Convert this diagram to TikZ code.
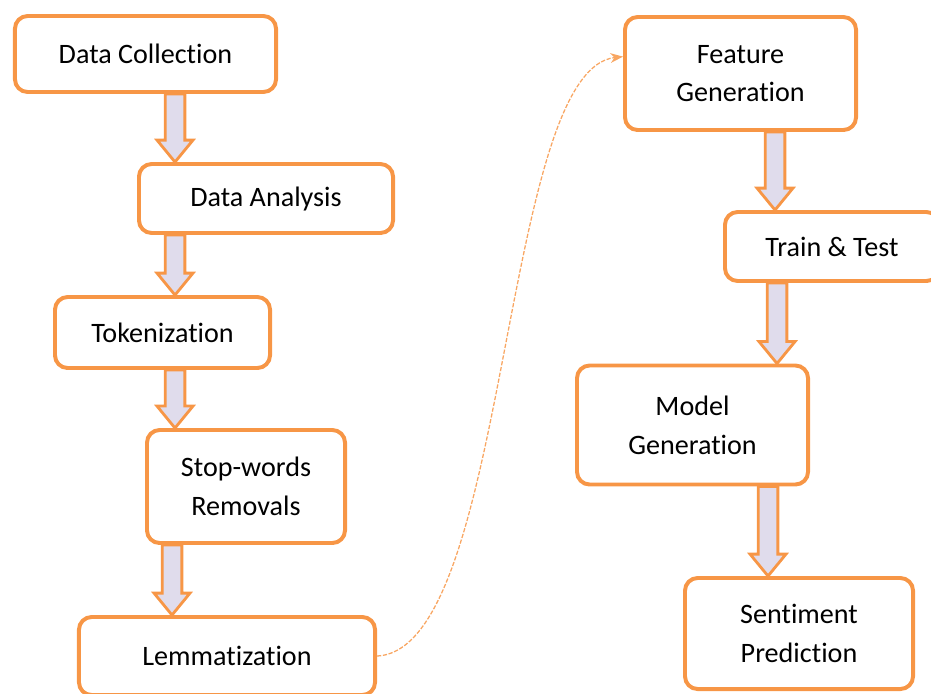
\documentclass[tikz,border=0pt]{standalone}
\usepackage{fontspec}
\setmainfont{Carlito}[Ligatures=NoCommon]
\usetikzlibrary{arrows.meta,calc}
\definecolor{boxorange}{RGB}{247,150,70}
\definecolor{arrowfill}{RGB}{224,220,236}
\tikzset{
  stage/.style={draw=boxorange, line width=2.8pt, rounded corners=9pt, fill=white,
    inner sep=0pt, align=center, font=\fontsize{20}{27.6}\selectfont},
  flowarrow/.style={draw=boxorange, line width=2pt, fill=arrowfill, line join=miter},
  jump/.style={draw=boxorange!85, line width=0.9pt, dashed, dash pattern=on 3pt off 1.2pt,
    -{Stealth[length=9pt,width=7pt]}}
}
% block arrow: x position, from node, to node
\newcommand{\flow}[3]{%
  \draw[flowarrow] let \p1=(#1,0), \p2=(#2.south), \p3=(#3.north) in
    (\x1-7pt,\y2) -- (\x1+7pt,\y2) -- (\x1+7pt,\y3+15.6pt) -- (\x1+12.8pt,\y3+15.6pt)
    -- (\x1,\y3) -- (\x1-12.8pt,\y3+15.6pt) -- (\x1-7pt,\y3+15.6pt) -- cycle;}
\begin{document}
\begin{tikzpicture}[x=0.025cm, y=-0.025cm]
\useasboundingbox (0,0) rectangle (931,693);
% left column
\node[stage, minimum width=6.525cm, minimum height=1.9cm] (collect) at (145.5,54) {Data Collection};
\node[stage, minimum width=6.35cm, minimum height=1.725cm] (analysis) at (266,198.5) {Data Analysis};
\node[stage, minimum width=5.375cm, minimum height=1.775cm] (token) at (162.5,332.5) {Tokenization};
\node[stage, minimum width=4.95cm, minimum height=2.825cm] (stopw) at (246,486.5) {Stop-words\\Removals};
\node[stage, minimum width=7.4cm, minimum height=1.95cm] (lemma) at (227,656) {Lemmatization};
% right column
\node[stage, minimum width=5.775cm, minimum height=2.825cm] (feature) at (740.5,73.5) {Feature\\Generation};
\node[stage, minimum width=5.35cm, minimum height=1.725cm] (train) at (832,246.5) {Train \& Test};
\node[stage, minimum width=5.775cm, minimum height=2.975cm] (model) at (692.5,425) {Model\\Generation};
\node[stage, minimum width=5.7cm, minimum height=2.775cm] (predict) at (799,633.5) {Sentiment\\Prediction};
% arrows
\flow{175}{collect}{analysis}
\flow{175}{analysis}{token}
\flow{175}{token}{stopw}
\flow{172}{stopw}{lemma}
\flow{775}{feature}{train}
\flow{777}{train}{model}
\flow{768}{model}{predict}
\draw[jump] (lemma.east) .. controls (510,650) and (500,70) .. ([yshift=12pt]feature.west);
\end{tikzpicture}
\end{document}
